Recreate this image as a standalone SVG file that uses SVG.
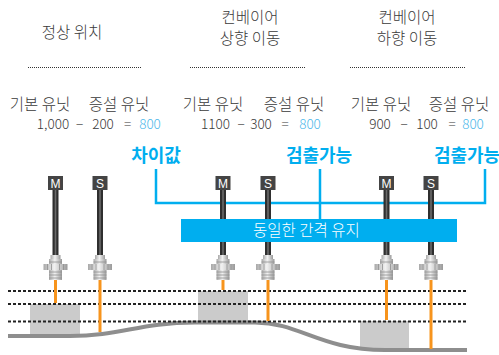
<svg xmlns="http://www.w3.org/2000/svg" xmlns:xlink="http://www.w3.org/1999/xlink" width="499" height="355" viewBox="0 0 499 355">
  <style>
    .lbl { font-family: "Noto Sans CJK KR", "Noto Sans", sans-serif; font-size: 15.5px; fill: #3a3a3a; font-weight: 300; text-anchor: middle; }
    .num { font-family: "Noto Sans CJK KR", "Noto Sans", sans-serif; font-size: 13.5px; fill: #3a3a3a; font-weight: 300; text-anchor: middle; }
    .val { fill: #4db8ea; }
    .hl { font-family: "Noto Sans CJK KR", "Noto Sans", sans-serif; font-size: 18px; fill: #00aeef; font-weight: 700; text-anchor: middle; }
    .bar-txt { font-family: "Noto Sans CJK KR", "Noto Sans", sans-serif; font-size: 15.5px; fill: #fff; font-weight: 300; }
    .dots { stroke: #333; stroke-width: 1; stroke-dasharray: 1 1; fill: none; }
    .dash { stroke: #222; stroke-width: 2; stroke-dasharray: 3 2; fill: none; }
    .blue { stroke: #00aeef; stroke-width: 2.5; fill: none; }
    .beam { stroke: #f7941d; stroke-width: 3; fill: none; }
    .block { fill: #cbcbcb; }
    .tag { font-family: "Liberation Sans", Arial, sans-serif; font-size: 12px; fill: #fff; text-anchor: middle; }
  </style>
  <defs>
    <linearGradient id="metal" x1="0" x2="1" y1="0" y2="0">
      <stop offset="0" stop-color="#a9a9a9"/>
      <stop offset="0.45" stop-color="#f2f2f2"/>
      <stop offset="1" stop-color="#9a9a9a"/>
    </linearGradient>
    <!-- cable + threaded fitting, centred on x=0 -->
    <g id="probe">
      <rect x="-3" y="190" width="6" height="66" fill="#2f2f2f"/>
      <rect x="-0.8" y="190" width="1.6" height="66" fill="#6a6a6a"/>
      <rect x="-5" y="255" width="10" height="5" fill="url(#metal)"/>
      <rect x="-6.5" y="259" width="13" height="21" fill="url(#metal)"/>
      <rect x="-12" y="264" width="24" height="6" fill="url(#metal)"/>
      <path d="M-6.5,262h13M-6.5,272h13M-6.5,275h13M-6.5,278h13M-8,264v6M8,264v6M-4,264v6M4,264v6" stroke="#8f8f8f" stroke-width="0.8"/>
    </g>
  </defs>

  <!-- headings -->
  <g id="head-normal">
    <text class="lbl" x="72" y="38">정상 위치</text>
    <line class="dots" x1="28" y1="67.5" x2="142" y2="67.5"/>
  </g>
  <g id="head-up">
    <text class="lbl" x="250" y="23">컨베이어</text>
    <text class="lbl" x="250" y="44">상향 이동</text>
    <line class="dots" x1="190" y1="67.5" x2="305" y2="67.5"/>
  </g>
  <g id="head-down">
    <text class="lbl" x="407" y="23">컨베이어</text>
    <text class="lbl" x="407" y="44">하향 이동</text>
    <line class="dots" x1="350" y1="67.5" x2="465" y2="67.5"/>
  </g>

  <!-- unit labels and values -->
  <g id="calc-normal">
    <text class="lbl" x="40" y="110">기본 유닛</text>
    <text class="lbl" x="119" y="110">증설 유닛</text>
    <text class="num" y="129"><tspan x="53">1,000</tspan><tspan x="79.5">−</tspan><tspan x="103">200</tspan><tspan x="127.5">=</tspan><tspan x="150" class="val">800</tspan></text>
  </g>
  <g id="calc-up">
    <text class="lbl" x="213" y="110">기본 유닛</text>
    <text class="lbl" x="294" y="110">증설 유닛</text>
    <text class="num" y="129"><tspan x="215.5">1100</tspan><tspan x="241">−</tspan><tspan x="261">300</tspan><tspan x="285">=</tspan><tspan x="310" class="val">800</tspan></text>
  </g>
  <g id="calc-down">
    <text class="lbl" x="381" y="110">기본 유닛</text>
    <text class="lbl" x="459" y="110">증설 유닛</text>
    <text class="num" y="129"><tspan x="380">900</tspan><tspan x="404">−</tspan><tspan x="427">100</tspan><tspan x="452">=</tspan><tspan x="473" class="val">800</tspan></text>
  </g>

  <!-- callouts -->
  <g id="callout-diff"><text class="hl" x="156" y="162">차이값</text></g>
  <g id="callout-ok1"><text class="hl" x="319" y="162">검출가능</text></g>
  <g id="callout-ok2"><text class="hl" x="467" y="162">검출가능</text></g>

  <g id="connectors">
    <path class="blue" d="M156,169V203H485V169"/>
    <path class="blue" d="M320,169V220"/>
  </g>

  <!-- targets -->
  <g id="targets">
    <rect class="block" x="30" y="304" width="50" height="31"/>
    <rect class="block" x="198" y="291" width="50" height="31"/>
    <rect class="block" x="360" y="321" width="49" height="29"/>
  </g>
  <path id="conveyor" d="M8,336L70,336C120,336 140,322.5 195,322.5L255,322.5C300,322.5 320,350 385,350L467,350" stroke="#8e8e8e" stroke-width="4" fill="none"/>

  <g id="levels">
    <line class="dash" x1="8" y1="291" x2="467" y2="291"/>
    <line class="dash" x1="8" y1="304" x2="467" y2="304"/>
    <line class="dash" x1="8" y1="321.5" x2="467" y2="321.5"/>
  </g>

  <!-- sensors -->
  <g id="sensor-m1">
    <use xlink:href="#probe" x="55.5"/>
    <line class="beam" x1="55.5" y1="280" x2="55.5" y2="303"/>
    <rect x="48" y="176" width="15" height="14" fill="#444"/>
    <text class="tag" x="55.5" y="187.5">M</text>
  </g>
  <g id="sensor-s1">
    <use xlink:href="#probe" x="100"/>
    <line class="beam" x1="100" y1="280" x2="100" y2="332"/>
    <rect x="92.5" y="176" width="15" height="14" fill="#444"/>
    <text class="tag" x="100" y="187.5">S</text>
  </g>
  <g id="sensor-m2">
    <use xlink:href="#probe" x="223"/>
    <line class="beam" x1="223" y1="280" x2="223" y2="290"/>
    <rect x="215.5" y="176" width="15" height="14" fill="#444"/>
    <text class="tag" x="223" y="187.5">M</text>
  </g>
  <g id="sensor-s2">
    <use xlink:href="#probe" x="268"/>
    <line class="beam" x1="268" y1="280" x2="268" y2="321"/>
    <rect x="260.5" y="176" width="15" height="14" fill="#444"/>
    <text class="tag" x="268" y="187.5">S</text>
  </g>
  <g id="sensor-m3">
    <use xlink:href="#probe" x="386.5"/>
    <line class="beam" x1="386.5" y1="280" x2="386.5" y2="320"/>
    <rect x="379" y="176" width="15" height="14" fill="#444"/>
    <text class="tag" x="386.5" y="187.5">M</text>
  </g>
  <g id="sensor-s3">
    <use xlink:href="#probe" x="431"/>
    <line class="beam" x1="431" y1="280" x2="431" y2="349"/>
    <rect x="423.5" y="176" width="15" height="14" fill="#444"/>
    <text class="tag" x="431" y="187.5">S</text>
  </g>

  <g id="gap-bar">
    <rect x="181" y="219" width="276" height="23" fill="#00aeef"/>
    <text class="bar-txt" x="253" y="236">동일한 간격 유지</text>
  </g>
</svg>
